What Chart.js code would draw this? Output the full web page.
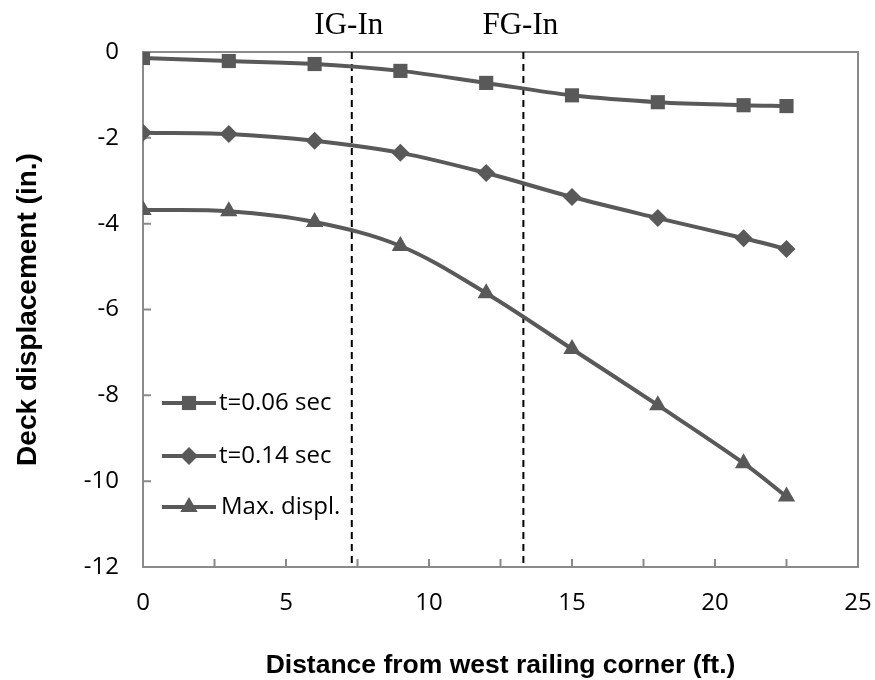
<!DOCTYPE html>
<html>
<head>
<meta charset="utf-8">
<script src="https://cdn.jsdelivr.net/npm/chart.js@4"></script>
<style>
  html, body { margin: 0; padding: 0; background: #fff; }
  #wrap { width: 875px; height: 680px; }
</style>
</head>
<body>
<div id="wrap"><canvas id="deck" width="875" height="680"></canvas></div>
<script>
  // ── Data ─────────────────────────────────────────
  const distance = [0, 3, 6, 9, 12, 15, 18, 21, 22.5];
  const dispT006 = [-0.14, -0.21, -0.28, -0.44, -0.72, -1.01, -1.17, -1.24, -1.26];
  const dispT014 = [-1.88, -1.91, -2.07, -2.35, -2.82, -3.38, -3.87, -4.34, -4.59];
  const dispMax = [-3.68, -3.71, -3.96, -4.52, -5.62, -6.92, -8.23, -9.58, -10.36];
  const seriesNames = ["t=0.06 sec", "t=0.14 sec", "Max. displ."];
  const markers = ["rect", "rectRot", "triangle"];
  const markerSize = [10, 9, 10];
  const girderNames = ["IG-In", "FG-In"];
  const girderPos = [7.3, 13.3];

  // ── Style ─────────────────────────────────────────
  const C = {
    series: "#595959",
    axis: "#8a8a8a",
    text: "#000"
  };
  const TICK_FONT = "'Open Sans', sans-serif";

  const pts = (ys) => distance.map((x, i) => ({ x, y: ys[i] }));

  const seriesData = [dispT006, dispT014, dispMax];
  const datasets = seriesData.map((ys, i) => ({
    label: seriesNames[i],
    data: pts(ys),
    borderColor: C.series,
    backgroundColor: C.series,
    borderWidth: 4,
    pointStyle: markers[i],
    pointRadius: markerSize[i],
    pointBorderWidth: 0,
    tension: 0.35
  }));

  girderPos.forEach((gx) => {
    datasets.push({
      label: "",
      data: [{ x: gx, y: 0 }, { x: gx, y: -12 }],
      borderColor: "#000",
      borderWidth: 2,
      borderDash: [7, 5],
      pointRadius: 0,
      tension: 0
    });
  });

  // ── Frame, inward ticks, titles, legend ──────────
  const decor = {
    id: "decor",
    beforeDatasetsDraw(chart) {
      const { ctx, chartArea: a, scales } = chart;
      ctx.save();
      ctx.strokeStyle = C.axis;
      ctx.lineWidth = 2;
      ctx.strokeRect(a.left, a.top, a.right - a.left, a.bottom - a.top);
      ctx.beginPath();
      scales.x.ticks.forEach((t) => {
        if (t.value <= 0 || t.value >= 25) return;
        const px = scales.x.getPixelForValue(t.value);
        ctx.moveTo(px, a.bottom);
        ctx.lineTo(px, a.bottom - 8);
      });
      scales.y.ticks.forEach((t) => {
        if (t.value <= -12 || t.value >= 0) return;
        const py = scales.y.getPixelForValue(t.value);
        ctx.moveTo(a.left, py);
        ctx.lineTo(a.left + 8, py);
      });
      ctx.stroke();
      ctx.restore();
    },
    afterDraw(chart) {
      const { ctx, scales, chartArea: a } = chart;
      ctx.save();
      ctx.fillStyle = C.text;

      // girder labels above the plot
      ctx.font = "31px 'Liberation Serif', 'Times New Roman', serif";
      ctx.textAlign = "center";
      ctx.textBaseline = "alphabetic";
      girderPos.forEach((gx, i) => {
        ctx.fillText(girderNames[i], scales.x.getPixelForValue(gx) - 3, 34);
      });

      // axis titles
      ctx.textBaseline = "middle";
      ctx.font = "bold 26.5px 'Liberation Sans', Arial, sans-serif";
      ctx.fillText("Distance from west railing corner (ft.)", (a.left + a.right) / 2, 666);
      ctx.font = "bold 28px 'Liberation Sans', Arial, sans-serif";
      ctx.translate(28, (a.top + a.bottom) / 2);
      ctx.rotate(-Math.PI / 2);
      ctx.fillText("Deck displacement (in.)", 0, 0);
      ctx.restore();

      // legend inside the plot
      ctx.save();
      const rows = [403, 456, 507];
      chart.data.datasets.slice(0, 3).forEach((ds, i) => {
        const y = rows[i];
        ctx.strokeStyle = ds.borderColor;
        ctx.lineWidth = ds.borderWidth;
        ctx.beginPath();
        ctx.moveTo(162, y);
        ctx.lineTo(216, y);
        ctx.stroke();
        ctx.fillStyle = ds.backgroundColor;
        Chart.helpers.drawPoint(ctx, {
          pointStyle: ds.pointStyle,
          radius: ds.pointRadius,
          borderWidth: 0,
          rotation: 0
        }, 189, y);
        ctx.fillStyle = C.text;
        ctx.font = "24px " + TICK_FONT;
        ctx.textAlign = "left";
        ctx.textBaseline = "middle";
        ctx.fillText(ds.label, i === 2 ? 221 : 219, y);
      });
      ctx.restore();
    }
  };

  const noPad = (s) => {
    s.paddingLeft = 0;
    s.paddingRight = 0;
    s.paddingTop = 0;
    s.paddingBottom = 0;
  };

  new Chart(document.getElementById("deck"), {
    type: "line",
    data: { datasets },
    options: {
      responsive: false,
      animation: false,
      layout: { padding: { left: 0, right: 17, top: 52, bottom: 0 } },
      plugins: { legend: { display: false }, tooltip: { enabled: false } },
      scales: {
        x: {
          type: "linear",
          min: 0,
          max: 25,
          afterFit: (s) => { s.height = 113; noPad(s); },
          grid: { display: false, drawTicks: false },
          border: { display: false },
          ticks: {
            stepSize: 2.5,
            autoSkip: false,
            maxRotation: 0,
            padding: 22,
            color: C.text,
            font: { family: TICK_FONT, size: 24 },
            callback: (v) => (v % 5 === 0 ? String(v) : "")
          }
        },
        y: {
          min: -12,
          max: 0,
          afterFit: (s) => { s.width = 143; noPad(s); },
          grid: { display: false, drawTicks: false },
          border: { display: false },
          ticks: {
            stepSize: 2,
            padding: 24,
            color: C.text,
            font: { family: TICK_FONT, size: 24 }
          }
        }
      }
    },
    plugins: [decor]
  });
</script>
</body>
</html>
